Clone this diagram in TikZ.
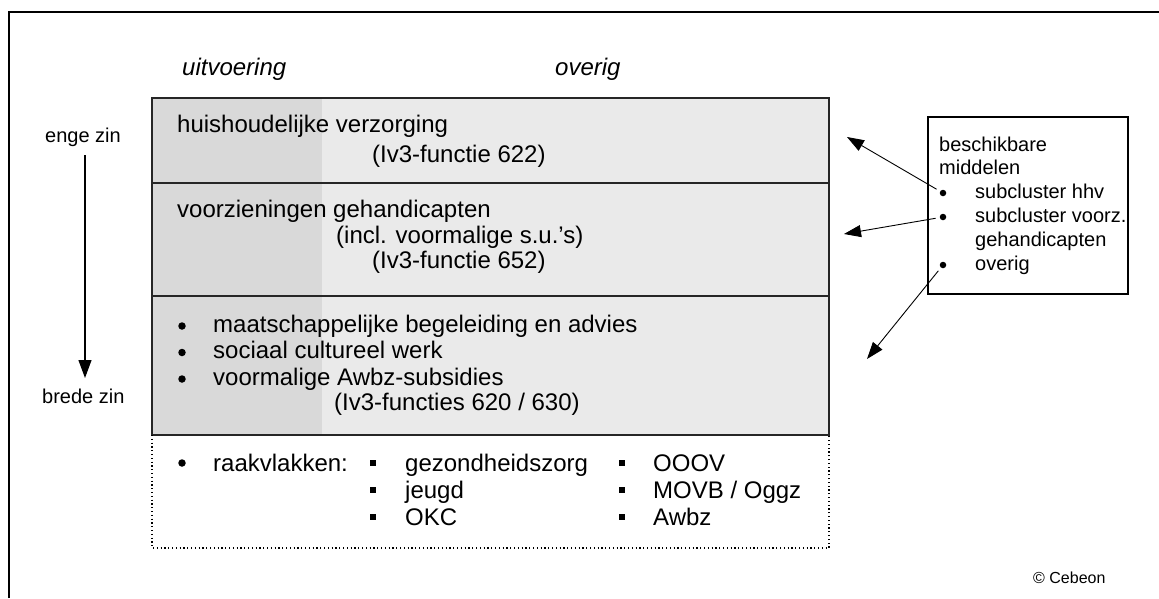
\documentclass[tikz,border=0pt]{standalone}
\usepackage{fontspec}
\setmainfont{Liberation Sans}
\usetikzlibrary{arrows.meta}
\definecolor{uitvG}{RGB}{217,217,217}
\definecolor{overG}{RGB}{234,234,234}

\begin{document}
\begin{tikzpicture}[x=1pt,y=-1pt,>={Triangle[length=17pt,width=12pt]},
  txt/.style={anchor=base west,inner sep=0pt,font=\fontsize{24}{26}\selectfont},
  sml/.style={anchor=base west,inner sep=0pt,font=\fontsize{20}{24}\selectfont},
  bul/.style={circle,fill,inner sep=0pt,minimum size=7.5pt},
  sbul/.style={circle,fill,inner sep=0pt,minimum size=6.5pt},
  sqb/.style={rectangle,fill,inner sep=0pt,minimum size=6pt}]
\useasboundingbox (0,0) rectangle (1159,598);
\draw[line width=2.5pt] (9,598) -- (9,12) -- (1159,12);
% kolommen
\node[txt,font=\fontsize{24}{26}\selectfont\itshape] (uitv) at (182,75) {uitvoering};
\node[txt,font=\fontsize{24}{26}\selectfont\itshape] (over) at (555,75) {overig};
\fill[uitvG] (152,98) rectangle (322,435); \fill[overG] (322,98) rectangle (829,435);
\draw[line width=1.3pt,black!85] (152,98) rectangle (829,435) (152,183) -- (829,183) (152,296) -- (829,296);
\draw[line width=1.3pt,dash pattern=on 1.2pt off 2.6pt] (152,435) -- (152,548) -- (829,548) -- (829,435);
% rijen
\node[txt] (hv) at (177,132) {huishoudelijke verzorging};
\node[txt] (hvf) at (372,162) {(Iv3-functie 622)};
\node[txt] (vg) at (177,217) {voorzieningen gehandicapten};
\node[txt] (vgi) at (336,243) {(incl. voormalige s.u.’s)};
\node[txt] (vgf) at (372,268) {(Iv3-functie 652)};
\foreach \t [count=\i] in {maatschappelijke begeleiding en advies,sociaal cultureel werk,voormalige Awbz-subsidies}{
  \node[bul] (mb\i) at (182,326+26.5*\i-26.5) {};
  \node[txt] (m\i) at (213,332+26.5*\i-26.5) {\t};}
\node[txt] (mf) at (334,410) {(Iv3-functies 620 / 630)};
% raakvlakken
\node[bul] (rb) at (182,463) {}; \node[txt] (rk) at (213,471) {raakvlakken:};
\foreach \t [count=\i] in {gezondheidszorg,jeugd,OKC}{
  \node[sqb] (ra\i) at (373,463+27*\i-27) {}; \node[txt] (rt\i) at (405,471+27*\i-27) {\t};}
\foreach \t [count=\i] in {OOOV,MOVB / Oggz,Awbz}{
  \node[sqb] (rc\i) at (622,463+27*\i-27) {}; \node[txt] (rs\i) at (653,471+27*\i-27) {\t};}
% enge / brede zin
\node[sml] (eng) at (45,142) {enge zin};
\node[sml] (bre) at (42,403) {brede zin};
\draw[->,line width=1.2pt,>={Triangle[length=18pt,width=13pt]}] (eng.south -| 85,0) ++(0,9) -- (85,378);
% middelen
\draw[line width=1.2pt] (928,117) rectangle (1128,294);
\node[sml] (bes) at (939,151) {beschikbare};
\node[sml] (mid) at (939,174) {middelen};
\node[sbul] (b1) at (943,193) {}; \node[sml] (s1) at (975,198) {subcluster hhv};
\node[sbul] (b2) at (943,217) {}; \node[sml] (s2) at (975,222) {subcluster voorz.};
\node[sml] (s2b) at (975,246) {gehandicapten};
\node[sbul] (b3) at (943,265) {}; \node[sml] (s3) at (975,270) {overig};
\coordinate (t1) at (847,137); \coordinate (t2) at (844,234); \coordinate (t3) at (867,359);
\draw[->,line width=0.9pt,shorten <=4pt] (b1) -- (t1);
\draw[->,line width=0.9pt,shorten <=4pt] (b2) -- (t2);
\draw[->,line width=0.9pt,shorten <=4pt] (b3) -- (t3);
\node[anchor=base west,inner sep=0pt,font=\fontsize{16}{19}\selectfont] (ceb) at (1033,583) {© Cebeon};
\end{tikzpicture}
\end{document}
